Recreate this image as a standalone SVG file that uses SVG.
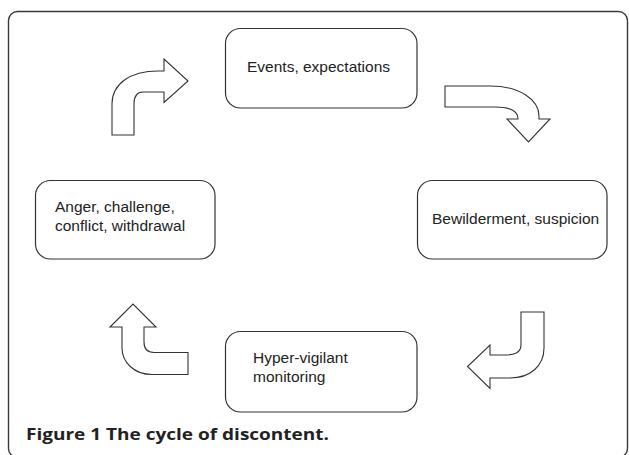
<svg xmlns="http://www.w3.org/2000/svg" width="629" height="455" viewBox="0 0 629 455">
<style>
.frame{fill:none;stroke:#3a3a3a;stroke-width:1.4}
.box{fill:#fff;stroke:#333;stroke-width:1.2}
.arr{fill:#fff;stroke:#333;stroke-width:1.1;stroke-linejoin:miter}
.lbl{font-family:"Liberation Sans",Arial,sans-serif;font-size:15.5px;fill:#222}
.cap{font-family:"Open Sans","Liberation Sans",sans-serif;font-size:16.5px;font-weight:700;fill:#222}
</style>
<rect width="629" height="455" fill="#fff"/>
<rect class="frame" x="8.5" y="11.5" width="619" height="446" rx="9" ry="9"/>
<g id="connectors">
<path class="arr" d="M112,135 V104 C112,84 130,71 158,71 H164 V59 L188,81 L164,102.5 V92 H143 C137,92 134,96 134,104 V135 Z"/>
<path class="arr" d="M445,86 H490 C520,86 539,100 539,116 V119 H550 L528.5,142 L507,119 H518 C518,112 512,107 495,107 H445 Z"/>
<path class="arr" d="M544,312 V348 C544,366 530,378 510,378 H490 V388.5 L467.5,366.5 L490,345 V355 H505 C515,355 521,352 521,345 V312 Z"/>
<path class="arr" d="M188,374.5 H152 C134,374.5 122,362 122,348 V327 H110 L133,304 L156,327 H144 V342 C144,349 147,352.5 154,352.5 H188 Z"/>
</g>
<g id="n-events">
<rect class="box" x="225.5" y="28.5" width="191.5" height="79.5" rx="15" ry="15"/>
<text class="lbl" x="247" y="72">Events, expectations</text>
</g>
<g id="n-bewilderment">
<rect class="box" x="417.5" y="180.5" width="189.5" height="78.5" rx="15" ry="15"/>
<text class="lbl" x="432" y="223.5">Bewilderment, suspicion</text>
</g>
<g id="n-hyper">
<rect class="box" x="225.5" y="331.5" width="191.5" height="80.5" rx="15" ry="15"/>
<text class="lbl" x="253" y="363">Hyper-vigilant</text>
<text class="lbl" x="253" y="382">monitoring</text>
</g>
<g id="n-anger">
<rect class="box" x="35.5" y="180.5" width="179.5" height="78.5" rx="15" ry="15"/>
<text class="lbl" x="55" y="212">Anger, challenge,</text>
<text class="lbl" x="55" y="231">conflict, withdrawal</text>
</g>
<text class="cap" x="26" y="440" textLength="303" lengthAdjust="spacingAndGlyphs">Figure 1 The cycle of discontent.</text>
</svg>
